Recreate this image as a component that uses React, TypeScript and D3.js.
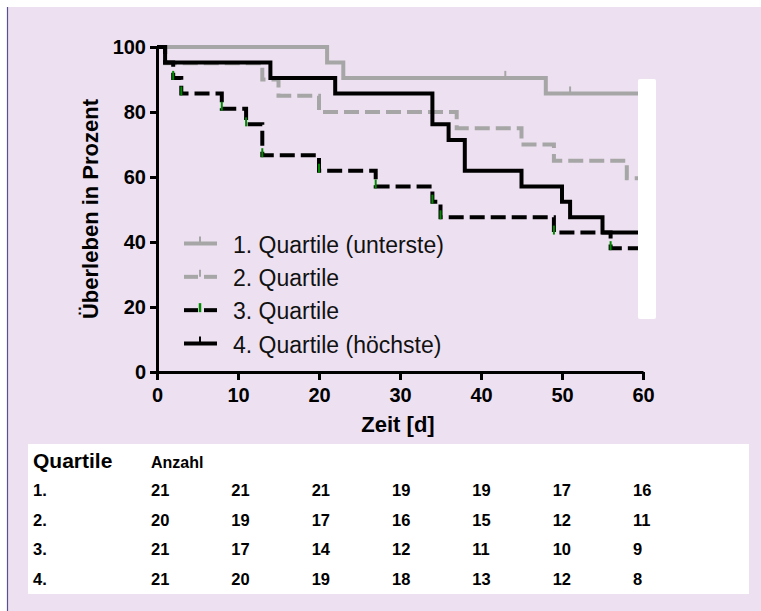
import React, { useEffect, useRef } from 'react';
import * as d3 from 'd3';

// Kaplan-Meier Überleben nach Quartilen

const q1Times = [0, 21, 23, 48, 60];
const q1Surv = [100, 95.2, 90.5, 85.7, 85.7];
const q1Censored = [43, 51];

const q2Times = [0, 1, 13, 15, 20, 37, 45, 49, 58, 60];
const q2Surv = [100, 95, 90, 85, 80, 75, 70, 65, 59.6, 59.6];

const q3Times = [0, 1, 2, 3, 8, 11, 13, 20, 27, 34, 35, 49, 56, 60];
const q3Surv = [100, 95.2, 90.5, 85.7, 81.0, 76.2, 66.7, 61.9, 57.1, 52.4, 47.6, 42.9, 38.1, 38.1];

const q4Times = [0, 1, 14, 22, 34, 36, 38, 45, 50, 51, 55, 60];
const q4Surv = [100, 95.2, 90.5, 85.7, 76.2, 71.4, 61.9, 57.1, 52.4, 47.6, 42.9, 42.9];

const legendLabels = [
  '1. Quartile (unterste)',
  '2. Quartile',
  '3. Quartile',
  '4. Quartile (höchste)',
];

const tableRowLabels = ['1.', '2.', '3.', '4.'];
const atRisk = [
  [21, 21, 21, 19, 19, 17, 16],
  [20, 19, 17, 16, 15, 12, 11],
  [21, 17, 14, 12, 11, 10, 9],
  [21, 20, 19, 18, 13, 12, 8],
];

const xTicks = [0, 10, 20, 30, 40, 50, 60];
const yTicks = [0, 20, 40, 60, 80, 100];

const GRAY = '#a6a6a6';
const GREEN = '#008a00';
const FONT = '"Liberation Sans", Arial, sans-serif';

const App = () => {
  const svgRef = useRef<SVGSVGElement>(null);

  useEffect(() => {
    const svg = d3.select(svgRef.current);
    svg.selectAll('*').remove();

    const x = d3.scaleLinear().domain([0, 60]).range([157, 643]);
    const y = d3.scaleLinear().domain([0, 100]).range([372, 47]);

    // background panel
    svg.append('rect').attr('x', 7).attr('y', 7).attr('width', 754).attr('height', 604).attr('fill', '#ede1f1');
    svg.append('line').attr('x1', 7.5).attr('x2', 7.5).attr('y1', 7).attr('y2', 611)
      .attr('stroke', '#5a4f8f').attr('stroke-width', 1.2);

    const line = d3.line<[number, number]>()
      .x(d => x(d[0]))
      .y(d => y(d[1]))
      .curve(d3.curveStepAfter);

    const curves = [
      { t: q1Times, s: q1Surv, color: GRAY, dash: null },
      { t: q2Times, s: q2Surv, color: GRAY, dash: '15,6' },
      { t: q4Times, s: q4Surv, color: '#000', dash: null },
      { t: q3Times, s: q3Surv, color: '#000', dash: '15,6' },
    ];

    curves.forEach(c => {
      const pts = c.t.map((t, i) => [t, c.s[i]] as [number, number]);
      svg.append('path')
        .attr('d', line(pts))
        .attr('fill', 'none')
        .attr('stroke', c.color)
        .attr('stroke-width', 4)
        .attr('stroke-dasharray', c.dash)
        .attr('stroke-linejoin', 'miter');
    });

    // censor ticks on quartile 1
    q1Censored.forEach(t => {
      const i = d3.bisectRight(q1Times, t) - 1;
      svg.append('line')
        .attr('x1', x(t)).attr('x2', x(t))
        .attr('y1', y(q1Surv[i])).attr('y2', y(q1Surv[i]) - 7)
        .attr('stroke', GRAY).attr('stroke-width', 2);
    });

    // green symbols on quartile 3 drops
    q3Times.forEach((t, i) => {
      if (i < 2 || i === q3Times.length - 1) return;
      svg.append('line')
        .attr('x1', x(t)).attr('x2', x(t))
        .attr('y1', y(q3Surv[i]) + 2).attr('y2', y(q3Surv[i]) - 7)
        .attr('stroke', GREEN).attr('stroke-width', 2);
    });

    // white mask on the right
    svg.append('rect').attr('x', 638).attr('y', 79).attr('width', 18).attr('height', 240)
      .attr('rx', 2).attr('fill', '#fff');

    // axes
    const yAxis = svg.append('g')
      .attr('transform', `translate(${x(0)},0)`)
      .call(d3.axisLeft(y).tickValues(yTicks).tickSize(7).tickSizeOuter(0).tickPadding(4));
    const xAxis = svg.append('g')
      .attr('transform', `translate(0,${y(0)})`)
      .call(d3.axisBottom(x).tickValues(xTicks).tickSize(8).tickSizeOuter(0).tickPadding(8));
    [yAxis, xAxis].forEach(g => {
      g.selectAll('path,line').attr('stroke', '#000').attr('stroke-width', 3);
      g.selectAll('text')
        .attr('fill', '#000')
        .style('font-family', FONT)
        .style('font-size', '20px')
        .style('font-weight', 'bold');
    });

    // axis titles
    svg.append('text')
      .attr('x', 398).attr('y', 432)
      .attr('text-anchor', 'middle')
      .style('font-family', FONT).style('font-size', '22px').style('font-weight', 'bold')
      .text('Zeit [d]');
    svg.append('text')
      .attr('transform', 'translate(98,209) rotate(-90)')
      .attr('text-anchor', 'middle')
      .style('font-family', FONT).style('font-size', '22px').style('font-weight', 'bold')
      .text('Überleben in Prozent');

    // legend
    const legendY = d3.scaleLinear().domain([0, 3]).range([243.5, 343.5]);
    legendLabels.forEach((label, i) => {
      const ly = legendY(i);
      const g = svg.append('g');
      const isGray = i < 2;
      const col = isGray ? GRAY : '#000';
      const dashed = i === 1 || i === 2;
      if (dashed) {
        g.append('line').attr('x1', 184).attr('x2', 198).attr('y1', ly).attr('y2', ly)
          .attr('stroke', col).attr('stroke-width', 4);
        g.append('line').attr('x1', 204).attr('x2', 217).attr('y1', ly).attr('y2', ly)
          .attr('stroke', col).attr('stroke-width', 4);
      } else {
        g.append('line').attr('x1', 184).attr('x2', 217).attr('y1', ly).attr('y2', ly)
          .attr('stroke', col).attr('stroke-width', 4);
      }
      if (i === 2) {
        g.append('line').attr('x1', 200).attr('x2', 200).attr('y1', ly + 2).attr('y2', ly - 7)
          .attr('stroke', GREEN).attr('stroke-width', 2.5);
      } else {
        g.append('line').attr('x1', 200).attr('x2', 200).attr('y1', ly).attr('y2', ly - 7)
          .attr('stroke', col).attr('stroke-width', 2);
      }
      g.append('text')
        .attr('x', 233).attr('y', ly + 9)
        .style('font-family', FONT).style('font-size', '23px')
        .attr('fill', '#111')
        .text(label);
    });

    // at-risk table
    svg.append('rect').attr('x', 28).attr('y', 444).attr('width', 721).attr('height', 150).attr('fill', '#fff');
    svg.append('text')
      .attr('x', 33).attr('y', 468)
      .style('font-family', FONT).style('font-size', '21px').style('font-weight', 'bold')
      .text('Quartile');
    const colX = d3.scaleLinear().domain([0, 6]).range([151, 633]);
    svg.append('text')
      .attr('x', colX(0)).attr('y', 468)
      .style('font-family', FONT).style('font-size', '16px').style('font-weight', 'bold')
      .text('Anzahl');
    const rowY = d3.scaleLinear().domain([0, 3]).range([496, 585]);
    tableRowLabels.forEach((lab, r) => {
      svg.append('text')
        .attr('x', 33).attr('y', rowY(r))
        .style('font-family', FONT).style('font-size', '16.5px').style('font-weight', 'bold')
        .text(lab);
      atRisk[r].forEach((v, c) => {
        svg.append('text')
          .attr('x', colX(c)).attr('y', rowY(r))
          .style('font-family', FONT).style('font-size', '16.5px').style('font-weight', 'bold')
          .text(v);
      });
    });
  }, []);

  return (
    <svg
      ref={svgRef}
      width="761"
      height="611"
      style={{ position: 'absolute', left: 0, top: 0, display: 'block' }}
    />
  );
};

export default App;
